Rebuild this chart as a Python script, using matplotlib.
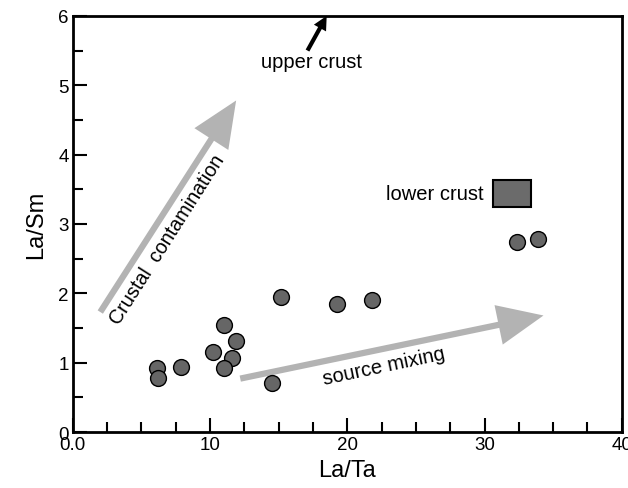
import matplotlib
matplotlib.use('Agg')
import matplotlib.pyplot as plt
from matplotlib.patches import FancyArrowPatch, Rectangle
from matplotlib.ticker import MultipleLocator, FixedLocator

plt.rcParams['font.family'] = ['Liberation Sans', 'DejaVu Sans']

# sample data
la_ta = [6.1, 6.2, 7.9, 10.2, 11.0, 11.9, 11.6, 11.0, 14.5, 15.15, 19.25, 21.8, 32.4, 33.9]
la_sm = [0.92, 0.78, 0.94, 1.16, 1.54, 1.31, 1.06, 0.92, 0.71, 1.94, 1.85, 1.90, 2.74, 2.78]

# lower crust box (La/Ta range, La/Sm range)
lower_x = (30.6, 33.4)
lower_y = (3.24, 3.64)

# trend arrows: (start, end)
crustal_arrow = ((2.0, 1.73), (11.9, 4.78))
mixing_arrow = ((12.2, 0.77), (34.3, 1.68))
upper_arrow = ((17.1, 5.5), (18.5, 6.0))

x_ticks = [0, 10, 20, 30, 40]
x_labels = ['0.0', '10', '20', '30', '40']
y_ticks = [0, 1, 2, 3, 4, 5, 6]

fig = plt.figure(figsize=(6.28, 4.89), dpi=100)
ax = fig.add_axes([0.116, 0.1145, 0.874, 0.851])

grey = '#b3b3b3'
for (p0, p1) in (crustal_arrow, mixing_arrow):
    ax.add_patch(FancyArrowPatch(p0, p1, shrinkA=0, shrinkB=0, mutation_scale=1,
                                 arrowstyle='simple,head_length=33,head_width=29,tail_width=4.5',
                                 color=grey, lw=0, zorder=1))
ax.add_patch(FancyArrowPatch(upper_arrow[0], upper_arrow[1], shrinkA=0, shrinkB=0,
                             mutation_scale=1, clip_on=False,
                             arrowstyle='simple,head_length=10,head_width=10,tail_width=3',
                             color='black', lw=0, zorder=3))

ax.scatter(la_ta, la_sm, s=130, facecolor='#666666', edgecolor='black', linewidth=1.0, zorder=4)

ax.add_patch(Rectangle((lower_x[0], lower_y[0]), lower_x[1] - lower_x[0], lower_y[1] - lower_y[0],
                       facecolor='#6b6b6b', edgecolor='black', linewidth=1.5, zorder=3))

ax.text(29.9, 3.44, 'lower crust', fontsize=14.5, ha='right', va='center')
ax.text(17.4, 5.34, 'upper crust', fontsize=14.5, ha='center', va='center')
ax.text(6.9, 2.78, 'Crustal  contamination', fontsize=14.2, ha='center', va='center', rotation=57.5)
ax.text(22.7, 0.95, 'source mixing', fontsize=14.5, ha='center', va='center', rotation=12)

ax.set_xlim(0, 40)
ax.set_ylim(0, 6)
ax.xaxis.set_major_locator(FixedLocator(x_ticks))
ax.set_xticklabels(x_labels)
ax.xaxis.set_minor_locator(MultipleLocator(2.5))
ax.yaxis.set_major_locator(FixedLocator(y_ticks))
ax.yaxis.set_minor_locator(MultipleLocator(0.5))
ax.tick_params(which='both', direction='in', width=1.5, labelsize=13.5,
               top=False, right=False)
ax.tick_params(which='major', length=10, pad=3)
ax.tick_params(which='minor', length=7)
for s in ax.spines.values():
    s.set_linewidth(2)

ax.set_xlabel('La/Ta', fontsize=17, labelpad=4)
ax.set_ylabel('La/Sm', fontsize=17, labelpad=8)

fig.savefig('out.png', dpi=100)
